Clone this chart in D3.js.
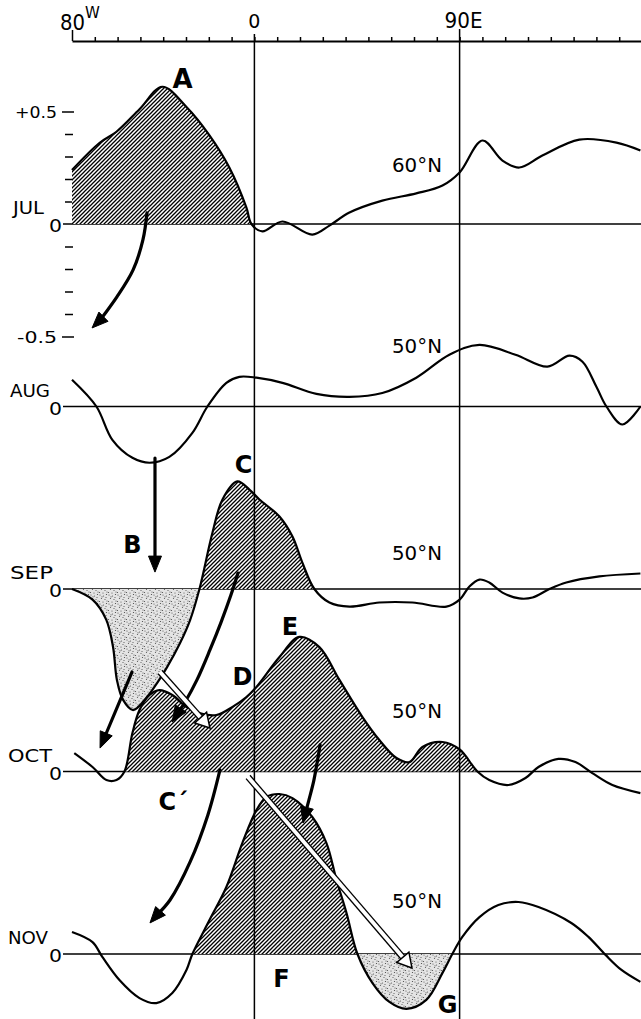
<!DOCTYPE html>
<html><head><meta charset="utf-8">
<script src="https://cdn.jsdelivr.net/npm/d3@7"></script>
<style>
body{margin:0;background:#fff}
svg{display:block}
text{font-family:"DejaVu Sans","Liberation Sans",Arial,sans-serif;fill:#000}
</style>
</head><body>
<svg id="c" width="641" height="1019"></svg>
<script>
// ---------------- data ----------------
const months = ["JUL","AUG","SEP","OCT","NOV"];
const latLabels = ["60°N","50°N","50°N","50°N","50°N"];
const lonTicks = d3.range(-80, 161, 10);
const lonLabels = ["80","0","90E"];
const lonLabelLons = [-80, 0, 90];
const valueTicks = [-0.5,-0.4,-0.3,-0.2,-0.1,0.1,0.2,0.3,0.4,0.5];
const valueLabels = ["+0.5","-0.5"];

const julLon = [-80,-68,-60.5,-50.4,-40.4,-29.8,-19.7,-11,-3.5,-1.3,3.5,12.3,25.4,32.9,41.7,56.1,71,82.5,90,100,108.8,116.2,126.3,142.5,158.8,169.3];
const julVal = [0.24,0.36,0.41,0.51,0.61,0.52,0.394,0.251,0.073,0,-0.033,0.011,-0.047,-0.007,0.051,0.104,0.136,0.171,0.229,0.371,0.282,0.251,0.304,0.375,0.362,0.327];

const augLon = [-80,-69.3,-62.3,-53.5,-46,-37.3,-27.2,-20.6,-12.3,-6.6,0.9,12.3,27.2,41.7,56.1,71,85.5,98.7,114.5,128.5,138.2,143.9,150,154.4,161.4,169.3];
const augVal = [0.119,0,-0.148,-0.228,-0.25,-0.224,-0.117,0,0.105,0.132,0.128,0.105,0.056,0.043,0.06,0.128,0.23,0.274,0.23,0.177,0.226,0.199,0.088,0,-0.08,0];

const sepLon = [-80,-71,-65,-62,-60.3,-57.6,-53.2,-47.1,-42.7,-38.3,-32.6,-28.2,-24.1,-18.4,-14,-7.5,-2.2,2.2,11,16.7,21,26.3,32.9,41.7,54.8,69.3,84.2,90,94.3,98.7,103,108.8,116.2,122,129.4,136.8,151.3,169.3];
const sepVal = [0,-0.047,-0.136,-0.258,-0.404,-0.493,-0.538,-0.48,-0.418,-0.347,-0.24,-0.138,0,0.25,0.398,0.478,0.442,0.398,0.322,0.233,0.118,0,-0.06,-0.078,-0.06,-0.06,-0.078,-0.047,0.011,0.042,0.029,-0.016,-0.042,-0.038,0,0.029,0.056,0.069];

const octLon = [-79,-71,-64.9,-60.5,-57,-53.5,-50.4,-46,-41.7,-36,-29.8,-24.1,-16.7,-9.6,-3.5,0.9,11,19.7,28.5,37.3,47.4,54.8,62.3,68,73.7,82.5,90,97.8,103,111.4,118.9,124.6,133.3,140.8,148.2,157,169.3];
const octVal = [0.082,0.02,-0.038,-0.038,0,0.171,0.273,0.34,0.362,0.34,0.287,0.26,0.251,0.287,0.331,0.376,0.509,0.598,0.553,0.407,0.242,0.14,0.06,0.042,0.109,0.131,0.098,0,-0.038,-0.06,-0.029,0.02,0.056,0.042,-0.007,-0.06,-0.096];

const novLon = [-80,-71,-66.7,-59.2,-50.4,-43,-36,-29.8,-27.2,-19.7,-12.3,-5.3,0.9,5.3,11,16.7,25.4,31.6,36,40.4,45.2,51.8,59.2,66.7,75.4,82.5,86.8,91.2,98.7,107,115.8,124.6,139,146.5,154,161,169.3];
const novVal = [0.098,0.053,-0.013,-0.116,-0.196,-0.218,-0.173,-0.071,0,0.151,0.298,0.493,0.64,0.698,0.711,0.693,0.609,0.493,0.329,0.182,0,-0.129,-0.213,-0.244,-0.204,-0.084,0,0.076,0.164,0.218,0.231,0.209,0.138,0.076,-0.004,-0.071,-0.124];

const seriesLon = [julLon, augLon, sepLon, octLon, novLon];
const seriesVal = [julVal, augVal, sepVal, octVal, novVal];

// shaded ranges (panel, kind, from lon, to lon)
const fillPanel = [0, 2, 2, 3, 4, 4];
const fillKind  = ["hatch","stipple","hatch","hatch","hatch","stipple"];
const fillFrom  = [-80, -80, -24.1, -57, -27.2, 45.2];
const fillTo    = [-1.3, -24.1, 26.3, 97.8, 45.2, 86.8];

// annotation letters (panel, lon, value)
const letterText  = ["A","C","B","D","E","C´","F","G"];
const letterPanel = [0, 2, 2, 3, 3, 4, 4, 4];
const letterLon   = [-31.5, -4.8, -53.5, -5.2, 15.6, -38.1, 11.9, 84.7];
const letterVal   = [0.604, 0.516, 0.16, 0.384, 0.607, 0.64, -0.147, -0.262];

// arrows (panel, kind, path in lon/value)
const arrowPanel = [0, 1, 2, 2, 2, 3, 3, 3];
const arrowKind  = ["solid","solid","solid","solid","open","solid","solid","open"];
const arrowPts = [
  [[-47.1,0.049],[-48.9,-0.071],[-53.2,-0.204],[-60.3,-0.324],[-67.7,-0.427],[-71.2,-0.462]],
  [[-43.6,-0.229],[-43.6,-0.736]],
  [[-7.2,0.071],[-10.3,-0.027],[-14.6,-0.147],[-19.5,-0.271],[-25.2,-0.404],[-30.4,-0.502],[-36.1,-0.591]],
  [[-53.7,-0.369],[-67.7,-0.707]],
  [[-41.4,-0.369],[-19.5,-0.618]],
  [[-15.1,0.007],[-20.4,-0.193],[-28.2,-0.402],[-37,-0.571],[-45.8,-0.673]],
  [[28.8,0.118],[26.1,-0.038],[23.9,-0.127],[21.3,-0.229]],
  [[-2.8,-0.024],[69.1,-0.873]]
];

// ---------------- layout ----------------
const svg = d3.select("#c");
const x = d3.scaleLinear().domain([-80, 170]).range([72, 642]);
const K = 225, Z0 = 224, STEP = 182.5;
const yS = d3.range(5).map(i => d3.scaleLinear().domain([0, 1]).range([Z0 + i*STEP, Z0 + i*STEP - K]));
const latOffsetVal = [0.231, 0.238, 0.129, 0.238, 0.204];
const monthX = [13, 10, 10, 8, 8];
const monthW = [31, 40, 43, 44, 40];
const curve = d3.curveCatmullRom.alpha(0.5);

// patterns
const defs = svg.append("defs");
const hp = defs.append("pattern").attr("id","hatch").attr("patternUnits","userSpaceOnUse")
  .attr("width",4).attr("height",4);
hp.append("rect").attr("width",4).attr("height",4).attr("fill","#fff");
hp.append("path").attr("d","M-1,1 l2,-2 M0,4 l4,-4 M3,5 l2,-2")
  .attr("stroke","#000").attr("stroke-width",1.3);
const sp = defs.append("pattern").attr("id","stipple").attr("patternUnits","userSpaceOnUse")
  .attr("width",9).attr("height",9);
sp.append("rect").attr("width",9).attr("height",9).attr("fill","#e4e4e4");
const dots = [[1,1],[4.5,2],[7.5,0.5],[2.5,4.5],[6,5.5],[0.5,7.5],[4,8],[8,7],[3,2.8],[7,3.5]];
sp.selectAll("circle").data(dots).join("circle")
  .attr("cx",d=>d[0]).attr("cy",d=>d[1]).attr("r",0.6).attr("fill","#555");

// top axis
const gx = svg.append("g").attr("transform","translate(0,41)")
  .call(d3.axisTop(x).tickValues(lonTicks).tickSize(4).tickSizeOuter(0).tickFormat(""));
gx.select(".domain").attr("stroke","#000").attr("stroke-width",2);
gx.selectAll(".tick line").attr("stroke","#000").attr("stroke-width",1.5);
gx.selectAll(".tick").filter(d => d === -80).select("line").attr("y2",-11);

svg.append("text").attr("x", x(lonLabelLons[0]) - 12).attr("y", 30).attr("font-size",21)
  .attr("textLength",25).attr("lengthAdjust","spacingAndGlyphs").text(lonLabels[0]);
svg.append("text").attr("x", x(lonLabelLons[0]) + 13).attr("y", 18).attr("font-size",15).text("W");
svg.append("text").attr("x", x(lonLabelLons[1])).attr("y", 28).attr("text-anchor","middle").attr("font-size",19).text(lonLabels[1]);
svg.append("text").attr("x", x(lonLabelLons[2]) - 15).attr("y", 28).attr("font-size",21)
  .attr("textLength",38).attr("lengthAdjust","spacingAndGlyphs").text(lonLabels[2]);

// zero lines
yS.forEach((s, i) => {
  svg.append("line").attr("x1",63).attr("x2",641).attr("y1",s(0)).attr("y2",s(0))
    .attr("stroke","#000").attr("stroke-width",1.5);
});

// JUL value axis
const gy = svg.append("g").attr("transform","translate(73,0)")
  .call(d3.axisLeft(yS[0]).tickValues(valueTicks).tickSize(8).tickFormat(""));
gy.select(".domain").remove();
gy.selectAll(".tick line").attr("stroke","#000").attr("stroke-width",1.5);
gy.selectAll(".tick").filter(d => Math.abs(d) === 0.5).select("line").attr("x2",-11).attr("x1",1);
svg.append("text").attr("x",15).attr("y",yS[0](0.5)+6).attr("font-size",16)
  .attr("textLength",42).attr("lengthAdjust","spacingAndGlyphs").text(valueLabels[0]);
svg.append("text").attr("x",17).attr("y",yS[0](-0.5)+6).attr("font-size",16)
  .attr("textLength",40).attr("lengthAdjust","spacingAndGlyphs").text(valueLabels[1]);

// panels
for (let i = 0; i < 5; i++) {
  const pts = seriesLon[i].map((l, j) => [l, seriesVal[i][j]]);
  const s = yS[i];
  fillPanel.forEach((p, f) => {
    if (p !== i) return;
    const id = "clip" + f;
    defs.append("clipPath").attr("id", id).append("rect")
      .attr("x", x(fillFrom[f])).attr("width", x(fillTo[f]) - x(fillFrom[f]))
      .attr("y", s(0) - 200).attr("height", 400);
    svg.append("path").datum(pts)
      .attr("clip-path", `url(#${id})`)
      .attr("fill", `url(#${fillKind[f]})`)
      .attr("d", d3.area().x(d => x(d[0])).y0(s(0)).y1(d => s(d[1])).curve(curve));
  });
  svg.append("path").datum(pts)
    .attr("fill","none").attr("stroke","#000").attr("stroke-width",2.2)
    .attr("stroke-linejoin","round")
    .attr("d", d3.line().x(d => x(d[0])).y(d => s(d[1])).curve(curve));
}

// vertical reference lines
svg.append("line").attr("x1",x(0)).attr("x2",x(0)).attr("y1",34).attr("y2",1019)
  .attr("stroke","#000").attr("stroke-width",1.5);
svg.append("line").attr("x1",x(90)).attr("x2",x(90)).attr("y1",29).attr("y2",1019)
  .attr("stroke","#000").attr("stroke-width",1.5);

// month labels and zero labels
months.forEach((m, i) => {
  const z = yS[i](0);
  svg.append("text").attr("x", monthX[i]).attr("y", z - 10).attr("font-size",18)
    .attr("textLength",monthW[i]).attr("lengthAdjust","spacingAndGlyphs").text(m);
  svg.append("text").attr("x", 49).attr("y", z + 8).attr("font-size",18)
    .attr("textLength",13).attr("lengthAdjust","spacingAndGlyphs").text("0");
  svg.append("text").attr("x", x(60.35)).attr("y", yS[i](latOffsetVal[i])).attr("font-size",19)
    .attr("textLength",50).attr("lengthAdjust","spacingAndGlyphs").text(latLabels[i]);
});

// letters
letterText.forEach((t, i) => {
  svg.append("text").attr("x", x(letterLon[i])).attr("y", yS[letterPanel[i]](letterVal[i]))
    .attr("text-anchor", t.length > 1 ? "start" : "middle")
    .attr("dx", t.length > 1 ? -9 : 0)
    .attr("font-size", t === "A" ? 26 : 24).attr("font-weight","bold").text(t);
});

// arrows
arrowPts.forEach((a, i) => {
  const s = yS[arrowPanel[i]];
  const P = a.map(d => [x(d[0]), s(d[1])]);
  const tip = P[P.length-1], prev = P[P.length-2];
  const dx = tip[0]-prev[0], dy = tip[1]-prev[1], L = Math.hypot(dx,dy);
  const ux = dx/L, uy = dy/L, nx = -uy, ny = ux;
  if (arrowKind[i] === "solid") {
    const hl = 16, hw = 6.5;
    const base = [tip[0]-ux*hl, tip[1]-uy*hl];
    const shaft = P.slice(0,-1).concat([[tip[0]-ux*hl*0.7, tip[1]-uy*hl*0.7]]);
    svg.append("path").attr("d", d3.line().curve(d3.curveCatmullRom.alpha(0.5))(shaft))
      .attr("fill","none").attr("stroke","#000").attr("stroke-width",3.2).attr("stroke-linecap","round");
    svg.append("path").attr("d", `M${tip[0]},${tip[1]}L${base[0]+nx*hw},${base[1]+ny*hw}L${base[0]-nx*hw},${base[1]-ny*hw}Z`)
      .attr("fill","#000").attr("stroke","#000").attr("stroke-width",1).attr("stroke-linejoin","round");
  } else {
    const hl = 14, hw = 8, off = 2.6;
    const base = [tip[0]-ux*hl, tip[1]-uy*hl];
    const st = P[0];
    svg.append("line").attr("x1",st[0]).attr("y1",st[1]).attr("x2",base[0]).attr("y2",base[1])
      .attr("stroke","#fff").attr("stroke-width",2*off);
    [-1,1].forEach(sg => {
      svg.append("line").attr("x1",st[0]+sg*nx*off).attr("y1",st[1]+sg*ny*off)
        .attr("x2",base[0]+sg*nx*off).attr("y2",base[1]+sg*ny*off)
        .attr("stroke","#000").attr("stroke-width",1.3);
    });
    svg.append("path").attr("d", `M${tip[0]},${tip[1]}L${base[0]+nx*hw},${base[1]+ny*hw}L${base[0]-nx*hw},${base[1]-ny*hw}Z`)
      .attr("fill","#fff").attr("stroke","#000").attr("stroke-width",1.5).attr("stroke-linejoin","miter");
  }
});
</script>
</body></html>
